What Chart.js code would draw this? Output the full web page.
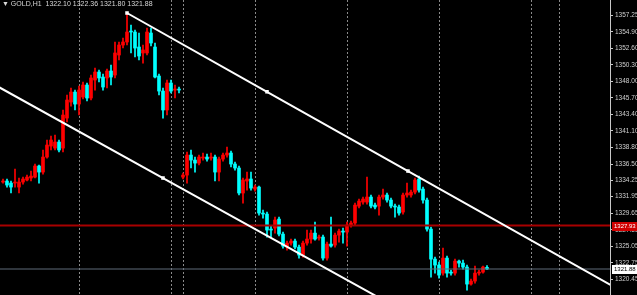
<!DOCTYPE html>
<html>
<head>
<meta charset="utf-8">
<script src="https://cdn.jsdelivr.net/npm/chart.js@4.4.1/dist/chart.umd.min.js"></script>
<style>
  html, body { margin: 0; padding: 0; background: #000; }
  #wrap { position: relative; width: 637px; height: 295px; overflow: hidden; }
  #header { position: absolute; left: 2px; top: 0px; font: 7px "Liberation Sans", sans-serif; color: #d8d8d8; white-space: pre; }
</style>
</head>
<body>
<div id="wrap">
  <canvas id="chart"></canvas>
  <div id="header"></div>
</div>
<script>
// GOLD H1 candles (oldest -> newest)
const symbol = 'GOLD,H1';
const opens = [
  1333.99, 1334.13, 1333.85, 1333.85, 1333.29, 1333.99, 1334.27, 1334.55, 1334.68, 1336.22,
  1335.38, 1337.47, 1339.00, 1338.72, 1339.56, 1338.72, 1342.90, 1345.13, 1346.52, 1344.85,
  1345.83, 1347.50, 1345.69, 1348.20, 1349.31, 1348.61, 1348.48, 1349.45, 1348.89, 1351.68,
  1353.07, 1353.49, 1355.02, 1354.88, 1352.79, 1351.96, 1351.96, 1354.74, 1352.79, 1348.75,
  1346.66, 1344.02, 1347.78, 1346.80, 1346.94, 1334.68, 1334.96, 1337.75, 1337.05, 1336.63,
  1337.33, 1337.47, 1337.33, 1337.47, 1335.38, 1337.19, 1337.75, 1338.03, 1336.50, 1335.94,
  1332.46, 1334.13, 1334.41, 1333.01, 1333.29, 1329.67, 1329.53, 1327.44, 1327.58, 1328.83,
  1326.74, 1324.93, 1325.49, 1325.77, 1324.93, 1323.82, 1325.49, 1326.05, 1326.88, 1326.19,
  1326.33, 1323.40, 1325.35, 1325.21, 1326.60, 1327.16, 1327.02, 1328.00, 1328.28, 1330.64,
  1331.20, 1331.20, 1331.90, 1330.78, 1330.64, 1331.90, 1332.18, 1331.48, 1330.64, 1330.51,
  1329.81, 1332.18, 1332.18, 1332.59, 1334.41, 1333.01, 1331.48, 1327.44, 1323.26, 1322.43,
  1321.31, 1323.40, 1321.45, 1321.31, 1322.98, 1322.70, 1322.15, 1319.78, 1320.20, 1321.31,
  1321.45, 1322.10
];
const highs = [
  1334.41, 1334.41, 1334.13, 1335.80, 1334.55, 1334.68, 1334.96, 1335.52, 1336.50, 1336.36,
  1338.45, 1339.84, 1340.40, 1340.53, 1339.84, 1344.02, 1346.11, 1347.08, 1346.80, 1347.36,
  1347.92, 1347.78, 1348.89, 1349.87, 1349.59, 1349.03, 1349.73, 1350.29, 1353.49, 1353.49,
  1354.05, 1357.53, 1355.86, 1355.16, 1354.74, 1353.07, 1355.44, 1355.44, 1353.35, 1349.03,
  1347.08, 1348.20, 1348.20, 1347.50, 1347.22, 1335.24, 1338.17, 1338.45, 1337.47, 1337.75,
  1338.03, 1337.89, 1338.03, 1337.75, 1337.47, 1338.03, 1338.86, 1338.31, 1336.77, 1336.22,
  1334.55, 1335.38, 1335.38, 1333.57, 1333.43, 1330.09, 1329.81, 1327.86, 1329.11, 1329.11,
  1327.02, 1325.77, 1326.05, 1326.05, 1325.21, 1325.77, 1327.30, 1327.30, 1328.42, 1326.60,
  1326.60, 1325.63, 1329.11, 1326.88, 1327.44, 1327.58, 1328.42, 1328.56, 1331.06, 1331.62,
  1331.90, 1334.68, 1332.18, 1331.06, 1332.18, 1333.01, 1332.46, 1331.76, 1330.92, 1330.78,
  1332.46, 1333.85, 1332.87, 1334.55, 1334.82, 1333.29, 1331.76, 1327.72, 1323.54, 1322.84,
  1324.79, 1323.68, 1321.73, 1323.26, 1323.12, 1323.12, 1322.43, 1320.48, 1322.29, 1321.73,
  1322.29, 1322.36
];
const lows = [
  1333.85, 1333.29, 1332.46, 1333.29, 1332.46, 1333.71, 1334.13, 1334.13, 1334.55, 1333.85,
  1335.10, 1337.33, 1338.45, 1338.45, 1338.17, 1338.17, 1342.35, 1344.57, 1344.02, 1343.32,
  1345.55, 1345.27, 1345.41, 1346.80, 1347.92, 1346.80, 1347.08, 1347.50, 1348.48, 1350.98,
  1352.65, 1353.07, 1351.96, 1351.40, 1350.98, 1350.56, 1351.68, 1352.93, 1348.48, 1346.11,
  1342.90, 1343.32, 1346.39, 1345.69, 1346.39, 1334.41, 1333.85, 1335.94, 1335.38, 1336.36,
  1337.05, 1336.91, 1337.05, 1334.13, 1334.13, 1336.91, 1337.47, 1336.08, 1335.66, 1332.18,
  1331.06, 1332.87, 1332.87, 1332.73, 1329.39, 1328.97, 1326.33, 1326.33, 1326.88, 1326.47,
  1324.79, 1324.52, 1325.21, 1324.66, 1323.40, 1323.54, 1325.21, 1325.49, 1325.91, 1325.91,
  1323.12, 1323.12, 1324.93, 1324.93, 1325.63, 1325.49, 1325.07, 1327.72, 1328.00, 1330.37,
  1330.92, 1330.92, 1330.37, 1330.23, 1329.39, 1331.62, 1331.20, 1330.37, 1329.11, 1329.39,
  1329.53, 1331.90, 1331.90, 1332.32, 1332.59, 1331.06, 1327.16, 1320.76, 1321.31, 1320.62,
  1321.03, 1320.76, 1321.03, 1321.03, 1322.15, 1321.87, 1318.94, 1319.64, 1319.92, 1321.03,
  1321.31, 1321.80
];
const closes = [
  1334.13, 1333.57, 1333.29, 1333.99, 1333.99, 1334.41, 1334.68, 1334.82, 1336.22, 1335.38,
  1337.47, 1339.14, 1339.84, 1339.56, 1338.45, 1343.32, 1345.41, 1346.52, 1344.85, 1346.80,
  1347.50, 1345.69, 1348.48, 1349.31, 1348.48, 1347.22, 1349.45, 1348.61, 1351.96, 1353.07,
  1353.49, 1354.88, 1354.88, 1352.65, 1351.54, 1352.38, 1354.88, 1353.35, 1348.61, 1346.66,
  1344.02, 1347.78, 1346.66, 1346.94, 1346.80, 1334.96, 1337.75, 1337.05, 1336.63, 1337.47,
  1337.47, 1337.19, 1337.47, 1335.38, 1337.19, 1337.75, 1338.03, 1336.50, 1335.94, 1332.46,
  1334.27, 1334.41, 1333.15, 1333.29, 1329.67, 1329.53, 1327.30, 1327.30, 1328.70, 1326.74,
  1325.07, 1325.49, 1325.77, 1324.93, 1323.82, 1325.49, 1326.05, 1326.88, 1326.05, 1326.33,
  1323.40, 1325.35, 1325.07, 1326.60, 1327.16, 1327.02, 1328.00, 1328.28, 1330.78, 1331.34,
  1331.62, 1331.90, 1330.64, 1330.51, 1331.90, 1332.18, 1331.48, 1330.64, 1330.51, 1329.67,
  1332.18, 1332.46, 1332.59, 1334.27, 1332.87, 1331.48, 1327.44, 1323.26, 1322.43, 1321.03,
  1323.40, 1321.31, 1321.31, 1322.98, 1322.70, 1322.15, 1319.78, 1320.20, 1321.31, 1321.45,
  1322.15, 1321.88
];

// right price scale labels
const tickLabels = [
  '1357.25', '1354.90', '1352.60', '1350.30', '1348.00', '1345.70', '1343.40', '1341.10', '1338.80',
  '1336.50', '1334.25', '1331.95', '1329.65', '1327.35', '1325.05', '1322.75', '1320.45'
];

// period separators (bar index)
const separators = [19, 42, 45, 63, 86, 109, 132, 139];

// horizontal levels
const alertLevel = 1327.93;
const bidLevel = closes[closes.length - 1];

// channel lines (bar index / price)
const upperX = [31, 66, 101.25, 152];
const upperY = [1357.53, 1346.56, 1335.52, 1319.62];
const lowerX = [-1, 40, 96];
const lowerY = [1347.20, 1334.55, 1317.27];

const X_MIN = -0.75, X_MAX = 151.75;
const BULL = '#ff0000', BEAR = '#00ffff';

const barColors = opens.map((o, i) => closes[i] >= o ? BULL : BEAR);
const bodies = opens.map((o, i) => ({ x: i, y: [Math.min(o, closes[i]), Math.max(o, closes[i])] }));
const wicks = lows.map((l, i) => ({ x: i, y: [l, highs[i]] }));

const fmt = v => v.toFixed(2);
const last = opens.length - 1;
document.getElementById('header').textContent =
  '\u25BC ' + symbol + '  ' + [opens[last], highs[last], lows[last], closes[last]].map(fmt).join(' ');

// separators behind the candles, price tags on the axis
const overlay = {
  id: 'overlay',
  beforeDatasetsDraw(chart) {
    const { ctx, chartArea: a, scales: { x } } = chart;
    ctx.save();
    ctx.strokeStyle = '#8a8a8a';
    ctx.lineWidth = 1;
    ctx.setLineDash([2, 2]);
    separators.forEach(s => {
      const px = Math.round(x.getPixelForValue(s)) + 0.5;
      ctx.beginPath();
      ctx.moveTo(px, a.top);
      ctx.lineTo(px, a.bottom);
      ctx.stroke();
    });
    ctx.restore();
  },
  afterDraw(chart) {
    const { ctx, chartArea: a, scales: { y } } = chart;
    const tag = (val, bg, fg) => {
      const py = Math.round(y.getPixelForValue(val));
      ctx.fillStyle = bg;
      ctx.fillRect(a.right + 2, py - 4, 25, 9);
      ctx.fillStyle = fg;
      ctx.font = '6px "Liberation Sans", sans-serif';
      ctx.textBaseline = 'middle';
      ctx.fillText(fmt(val), a.right + 4, py + 0.5);
    };
    ctx.save();
    tag(alertLevel, '#d00000', '#ffffff');
    tag(bidLevel, '#ffffff', '#000000');
    ctx.restore();
  }
};

new Chart(document.getElementById('chart'), {
  type: 'bar',
  data: {
    datasets: [
      {
        label: 'wicks',
        data: wicks,
        backgroundColor: barColors,
        barThickness: 1,
        grouped: false,
        minBarLength: 1,
        order: 4
      },
      {
        label: 'bodies',
        data: bodies,
        backgroundColor: barColors,
        barThickness: 3,
        grouped: false,
        minBarLength: 1,
        order: 3
      },
      {
        type: 'line',
        label: 'alert',
        data: [{ x: X_MIN, y: alertLevel }, { x: X_MAX, y: alertLevel }],
        borderColor: '#a80000',
        borderWidth: 2,
        pointRadius: 0,
        order: 2
      },
      {
        type: 'line',
        label: 'bid',
        data: [{ x: X_MIN, y: bidLevel }, { x: X_MAX, y: bidLevel }],
        borderColor: '#5f6b78',
        borderWidth: 1,
        pointRadius: 0,
        order: 2
      },
      {
        type: 'line',
        label: 'channel top',
        data: upperX.map((x, i) => ({ x, y: upperY[i] })),
        borderColor: '#ffffff',
        borderWidth: 2,
        pointStyle: 'rect',
        pointRadius: [2.5, 2.5, 2.5, 0],
        pointBackgroundColor: '#ffffff',
        pointBorderWidth: 0,
        order: 1
      },
      {
        type: 'line',
        label: 'channel bottom',
        data: lowerX.map((x, i) => ({ x, y: lowerY[i] })),
        borderColor: '#ffffff',
        borderWidth: 2,
        pointStyle: 'rect',
        pointRadius: [0, 2.5, 0],
        pointBackgroundColor: '#ffffff',
        pointBorderWidth: 0,
        order: 1
      }
    ]
  },
  options: {
    responsive: true,
    maintainAspectRatio: false,
    animation: false,
    layout: { padding: 0, autoPadding: false },
    plugins: { legend: { display: false }, tooltip: { enabled: false } },
    scales: {
      x: {
        type: 'linear',
        min: X_MIN,
        max: X_MAX,
        offset: false,
        display: false
      },
      y: {
        position: 'right',
        min: 1318.26,
        max: 1359.34,
        afterBuildTicks: s => { s.ticks = tickLabels.map(t => ({ value: parseFloat(t) })); },
        afterFit: s => {
          s.width = 27;
          // plot runs edge to edge, labels sit well inside
          s.paddingTop = 0;
          s.paddingBottom = 0;
        },
        grid: { drawOnChartArea: false, tickLength: 3, color: '#c8c8c8' },
        border: { color: '#c8c8c8' },
        ticks: {
          autoSkip: false,
          padding: 2,
          color: '#cfcfcf',
          font: { family: 'Liberation Sans', size: 6.5 },
          callback: (v, idx) => tickLabels[idx]
        }
      }
    }
  },
  plugins: [overlay]
});
</script>
</body>
</html>
